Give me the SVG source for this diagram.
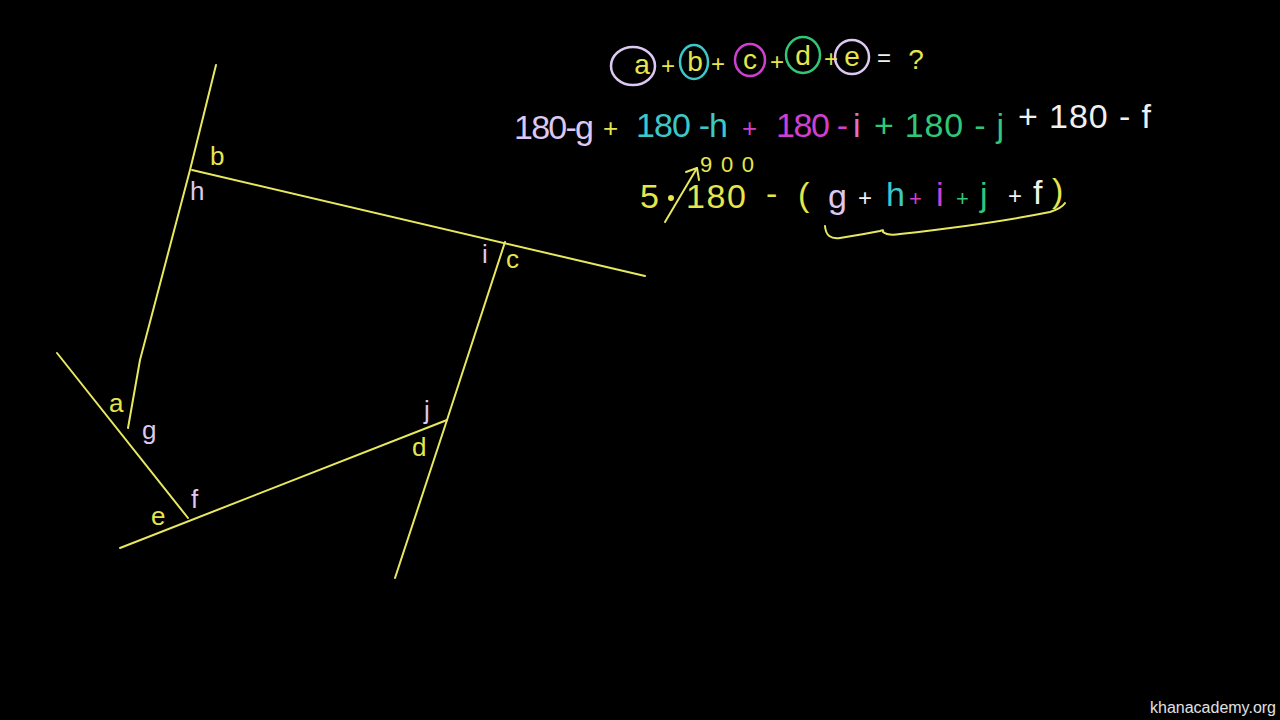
<svg xmlns="http://www.w3.org/2000/svg" width="1280" height="720" viewBox="0 0 1280 720">
<style>
.ln{fill:none;stroke:#e8e860;stroke-width:2;stroke-linecap:round;stroke-linejoin:round}
text{font-family:"Liberation Sans",Arial,sans-serif}
.lb{font-size:26px}
.eq{font-size:34px}
.y{fill:#e6e64c}.lv{fill:#dcc8f0}.cy{fill:#3cc8c8}.mg{fill:#d040d0}.gr{fill:#30c878}.wh{fill:#f0f0f0}
.ring{fill:none;stroke-width:2.5}
</style>
<rect width="1280" height="720" fill="#000"/>
<g id="connectors">
<polyline class="ln" points="216,65 190,170 140,360 128,428"/>
<polyline class="ln" points="192,170 645,276"/>
<polyline class="ln" points="505,242 447,420 395,578"/>
<polyline class="ln" points="120,548 447,420"/>
<polyline class="ln" points="57,353 188,518"/>
</g>
<g id="labels">
<text class="lb y" x="210" y="165">b</text>
<text class="lb lv" x="190" y="200">h</text>
<text class="lb lv" x="482" y="263">i</text>
<text class="lb y" x="506" y="268" font-size="20">c</text>
<text class="lb lv" x="424" y="419">j</text>
<text class="lb y" x="412" y="456">d</text>
<text class="lb y" x="109" y="412" font-size="20">a</text>
<text class="lb lv" x="142" y="439">g</text>
<text class="lb y" x="151" y="525">e</text>
<text class="lb lv" x="191" y="508">f</text>
</g>
<g id="eq1">
<ellipse class="ring" cx="633" cy="66" rx="22" ry="19" stroke="#dcc8f0"/>
<ellipse class="ring" cx="694" cy="62" rx="14" ry="17" stroke="#3cc8c8"/>
<ellipse class="ring" cx="750" cy="60" rx="15" ry="16" stroke="#d040d0"/>
<ellipse class="ring" cx="803" cy="55" rx="17" ry="18" stroke="#30c878"/>
<ellipse class="ring" cx="852" cy="57" rx="17" ry="17" stroke="#dcc8f0"/>
<text class="y" font-size="28" text-anchor="middle" x="642" y="74">a</text>
<text class="y" font-size="24" text-anchor="middle" x="668" y="74">+</text>
<text class="y" font-size="28" text-anchor="middle" x="695" y="71">b</text>
<text class="y" font-size="24" text-anchor="middle" x="718" y="72">+</text>
<text class="y" font-size="28" text-anchor="middle" x="750" y="69">c</text>
<text class="y" font-size="24" text-anchor="middle" x="777" y="70">+</text>
<text class="y" font-size="28" text-anchor="middle" x="803" y="65">d</text>
<text class="y" font-size="24" text-anchor="middle" x="831" y="67">+</text>
<text class="y" font-size="28" text-anchor="middle" x="852" y="66">e</text>
<text class="wh" font-size="24" text-anchor="middle" x="884" y="66">=</text>
<text class="y" font-size="28" text-anchor="middle" x="916" y="69">?</text>
</g>
<g id="eq2" class="eq">
<text class="lv" x="514" y="139" textLength="80">180-g</text>
<text class="y" x="603" y="137" font-size="26">+</text>
<text class="cy" x="636" y="137" textLength="92">180 -h</text>
<text class="mg" x="742" y="137" font-size="26">+</text>
<text class="mg" x="776" y="137" textLength="72">180 -</text>
<text class="lv" x="853" y="137" fill="#e070d0" style="fill:#e070d0">i</text>
<text class="gr" x="874" y="137" textLength="130">+ 180 - j</text>
<text class="wh" x="1018" y="128" textLength="133">+ 180 - f</text>
</g>
<g id="eq3" class="eq">
<text class="y" x="640" y="208">5</text>
<circle cx="671" cy="198" r="3" fill="#e6e64c"/>
<text class="y" x="686" y="208" textLength="60">180</text>
<text class="y" x="766" y="205">-</text>
<text class="y" x="798" y="206">(</text>
<text class="lv" x="828" y="208">g</text>
<text class="wh" x="858" y="206" font-size="24">+</text>
<text class="cy" x="886" y="206">h</text>
<text class="mg" x="909" y="206" font-size="22">+</text>
<text class="mg" x="936" y="206">i</text>
<text class="gr" x="956" y="206" font-size="22">+</text>
<text class="gr" x="980" y="206">j</text>
<text class="wh" x="1008" y="204" font-size="24">+</text>
<text class="wh" x="1033" y="204">f</text>
<text class="y" x="1052" y="202">)</text>
<text class="y" x="700" y="172" font-size="22" textLength="54">900</text>
<polyline class="ln" points="665,222 697,168"/>
<polyline class="ln" points="686,172 697,168 699,180"/>
<path class="ln" d="M825,226 Q826,240 840,238 Q865,234 880,231 Q884,229 883,232 Q888,236 900,234 Q990,224 1050,212 Q1062,208 1065,203"/>
</g>
<text x="1150" y="713" font-size="16" fill="#e0e0e0">khanacademy.org</text>
</svg>
